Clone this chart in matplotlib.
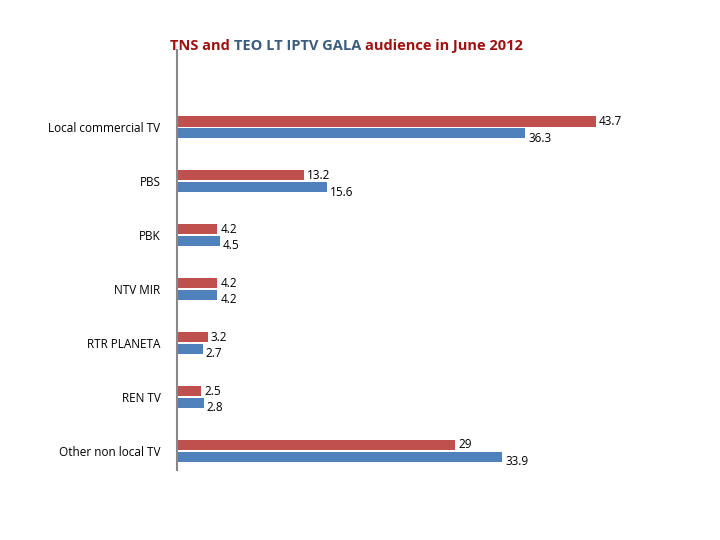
import numpy as np
import matplotlib
matplotlib.use("Agg")
from matplotlib import pyplot as plt

categories = ["Local commercial TV", "PBS", "PBK", "NTV MIR", "RTR PLANETA", "REN TV", "Other non local TV"]
tns = [43.7, 13.2, 4.2, 4.2, 3.2, 2.5, 29]
teo = [36.3, 15.6, 4.5, 4.2, 2.7, 2.8, 33.9]

plt.rcParams['font.family'] = ['Open Sans', 'DejaVu Sans']
fig = plt.figure(figsize=(7.2, 5.4), dpi=100)
ax = fig.add_axes([0.246, 0.130, 0.714, 0.777])

y = np.arange(len(categories))
h = 0.19
ax.barh(y - 0.11, tns, height=h, color='#c0504d')
ax.barh(y + 0.11, teo, height=h, color='#4f81bd')
for yi, a, b in zip(y, tns, teo):
    ax.text(a + 0.3, yi - 0.11, f"{a:g}", va='center', ha='left', fontsize=8.5)
    ax.text(b + 0.3, yi + 0.2, f"{b:g}", va='center', ha='left', fontsize=8.5)

ax.set_xlim(0, 53.6)
ax.set_ylim(6.35, -1.43)
ax.set_yticks(y)
ax.set_yticklabels(categories, fontsize=8.5)
ax.set_xticks([])
ax.tick_params(axis='y', length=0, pad=12)
for s in ['top', 'right', 'bottom']:
    ax.spines[s].set_visible(False)
ax.spines['left'].set_color('#888888')
ax.spines['left'].set_linewidth(1.5)

parts = [("TNS and ", '#a01010'), ("TEO LT IPTV GALA ", '#3b5c7c'), ("audience in June 2012", '#a01010')]
x0 = 0.236
r = fig.canvas.get_renderer()
for txt, c in parts:
    t = fig.text(x0, 0.915, txt, color=c, fontsize=10.5, fontweight='bold', va='center')
    x0 += t.get_window_extent(r).width / fig.bbox.width

fig.savefig("out.png", dpi=100)
